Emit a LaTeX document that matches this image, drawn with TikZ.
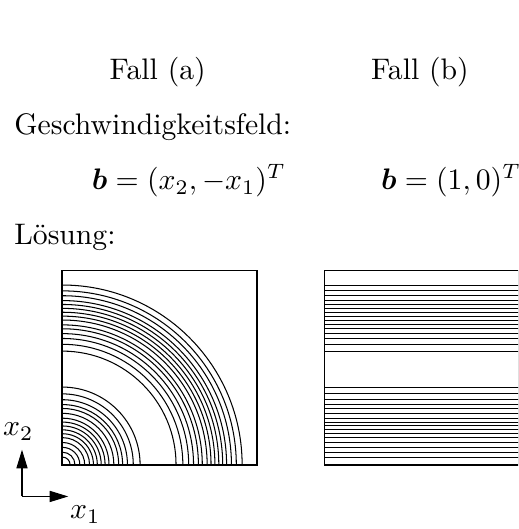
\documentclass[tikz,border=0pt]{standalone}
\usepackage{amsmath,amssymb}
\usepackage{tikz}
\usetikzlibrary{arrows.meta,positioning}

\begin{document}
\begin{tikzpicture}[x=1.085cm,y=1.085cm,
 frame/.style={draw,line width=0.6pt},
 iso/.style={line width=0.35pt},
 lab/.style={inner sep=0pt},
 axis/.style={-{Triangle[length=2.2mm,width=1.3mm]},line width=0.5pt}]
 \useasboundingbox (-0.68,-0.70) rectangle (4.97,5.07);
 \clip (-0.68,-0.70) rectangle (4.97,5.07);
 % headings
 \node[lab,anchor=base] (fa) at (1.04,4.20) {Fall (a)};
 \node[lab,anchor=base] (fb) at (3.90,4.20) {Fall (b)};
 \node[lab,anchor=base west] (gf) at (-0.53,3.60) {Geschwindigkeitsfeld:};
 \node[lab,anchor=base] (ba) at (1.38,3.00) {$\boldsymbol{b}=(x_2,-x_1)^T$};
 \node[lab,anchor=base] (bb) at (4.24,3.00) {$\boldsymbol{b}=(1,0)^T$};
 \node[lab,anchor=base west] (ls) at (-0.53,2.40) {Lösung:};
 % panel a: circular contours
 \begin{scope}[shift={(0,0)}]
  \foreach \r in {0.04,0.065,0.09,0.115,0.14,0.16,0.18,0.20,0.22,0.24,0.265,0.29,0.31,0.335,0.365,0.40,
                  0.585,0.62,0.65,0.675,0.70,0.72,0.745,0.765,0.785,0.805,0.825,0.845,0.87,0.895,0.925}
   \draw[iso] ({\r*2.12},0) arc[start angle=0,end angle=90,radius={\r*2.12}];
  \draw[frame] (0,0) rectangle (2.12,2.12);
 \end{scope}
 % panel b: straight contours
 \begin{scope}[shift={(2.86,0)}]
  \foreach \r in {0.04,0.065,0.09,0.115,0.14,0.16,0.18,0.20,0.22,0.24,0.265,0.29,0.31,0.335,0.365,0.40,
                  0.585,0.62,0.65,0.675,0.70,0.72,0.745,0.765,0.785,0.805,0.825,0.845,0.87,0.895,0.925}
   \draw[iso] (0,{\r*2.12}) -- (2.12,{\r*2.12});
  \draw[frame] (0,0) rectangle (2.12,2.12);
 \end{scope}
 % axes
 \coordinate (o) at (-0.44,-0.345);
 \coordinate (e1) at (0.065,-0.345);
 \coordinate (e2) at (-0.44,0.165);
 \draw[axis] (o) -- (e2);
 \draw[axis] (o) -- (e1);
 \node[lab] (x2) at (-0.48,0.36) {$x_2$};
 \node[lab] (x1) at (0.25,-0.545) {$x_1$};
\end{tikzpicture}
\end{document}
